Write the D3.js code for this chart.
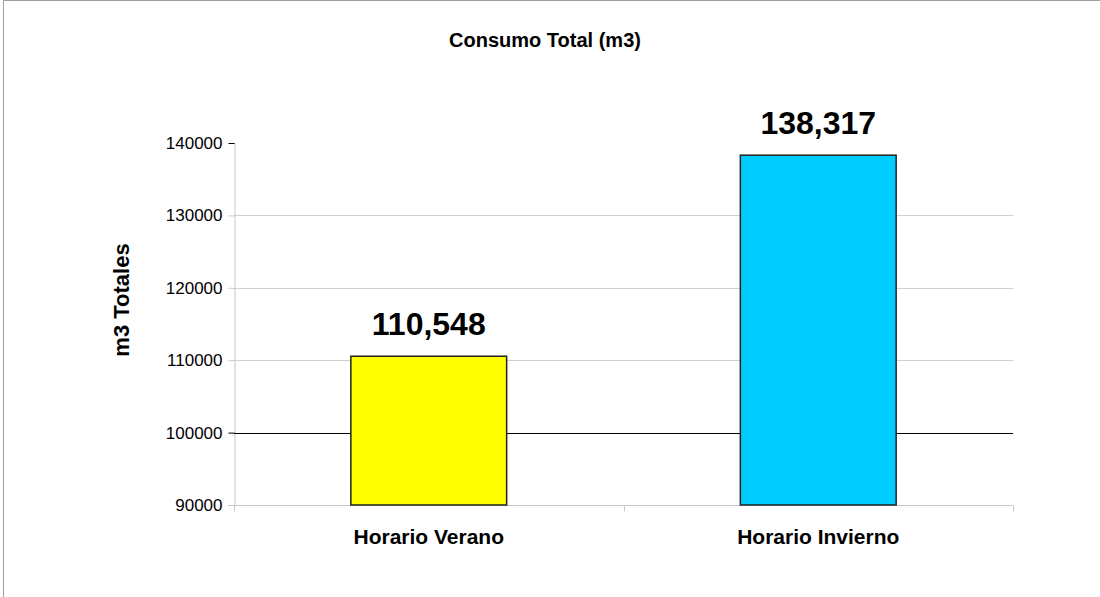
<!DOCTYPE html>
<html>
<head>
<meta charset="utf-8">
<script src="https://cdn.jsdelivr.net/npm/d3@7"></script>
<style>
	body { margin: 0; background: #fff; }
	svg text { font-family: "Liberation Sans", Arial, sans-serif; fill: #000; }
</style>
</head>
<body>
<script>
const categories = ['Horario Verano', 'Horario Invierno'];
const values = [110548, 138317];
const colors = ['#ffff00', '#00ccff'];
const yTicks = [90000, 100000, 110000, 120000, 130000, 140000];

const width = 1100;
const height = 597;
const margin = { top: 143, right: 87, bottom: 92, left: 234 };

const svg = d3.select('body')
	.append('svg')
	.attr('width', width)
	.attr('height', height);

// outer frame of the chart area (only top and left show in the picture)
svg.append('path')
	.attr('d', 'M3.5,' + height + 'V0.5H' + width)
	.attr('fill', 'none')
	.attr('stroke', '#a0a0a0');

const xScale = d3.scaleBand()
	.domain(categories)
	.range([margin.left, width - margin.right])
	.paddingInner(0.6)
	.paddingOuter(0.3);

const yScale = d3.scaleLinear()
	.domain([90000, 140000])
	.range([height - margin.bottom, margin.top]);

// gridlines
svg.append('g')
	.selectAll('line')
	.data(yTicks.filter(function(d) { return d > 100000 && d < 140000; }))
	.enter()
	.append('line')
	.attr('x1', margin.left)
	.attr('x2', width - margin.right)
	.attr('y1', function(d) { return Math.round(yScale(d)) + 0.5; })
	.attr('y2', function(d) { return Math.round(yScale(d)) + 0.5; })
	.attr('stroke', '#d0d0d0');

// y axis
const yAxis = svg.append('g')
	.attr('transform', 'translate(' + (margin.left + 0.5) + ',0)')
	.call(d3.axisLeft(yScale).tickValues(yTicks).tickSize(6).tickPadding(6).tickFormat(d3.format('d')));
yAxis.select('.domain').attr('stroke', '#c8c8c8');
yAxis.selectAll('.tick line').attr('stroke', function(d) { return d === 140000 || d === 100000 ? '#000' : '#c8c8c8'; });
yAxis.selectAll('.tick text').style('font-size', '17px');

// bottom category axis
const xAxis = svg.append('g')
	.attr('transform', 'translate(0,' + (Math.round(yScale(90000)) + 0.5) + ')');
xAxis.append('line')
	.attr('x1', margin.left - 6)
	.attr('x2', width - margin.right)
	.attr('stroke', '#c8c8c8');
const bounds = [margin.left, (margin.left + width - margin.right) / 2, width - margin.right];
xAxis.selectAll('.cat-tick')
	.data(bounds)
	.enter()
	.append('line')
	.attr('x1', function(d) { return Math.round(d) + 0.5; })
	.attr('x2', function(d) { return Math.round(d) + 0.5; })
	.attr('y1', 0)
	.attr('y2', 6)
	.attr('stroke', '#c8c8c8');
xAxis.selectAll('text')
	.data(categories)
	.enter()
	.append('text')
	.attr('x', function(d) { return xScale(d) + xScale.bandwidth() / 2; })
	.attr('y', 38)
	.attr('text-anchor', 'middle')
	.style('font-size', '21px')
	.style('font-weight', 'bold')
	.text(function(d) { return d; });

// the black line at 100000
svg.append('line')
	.attr('x1', margin.left)
	.attr('x2', width - margin.right)
	.attr('y1', Math.round(yScale(100000)) + 0.5)
	.attr('y2', Math.round(yScale(100000)) + 0.5)
	.attr('stroke', '#000');

// bars
svg.selectAll('rect.bar')
	.data(values)
	.enter()
	.append('rect')
	.attr('class', 'bar')
	.attr('x', function(d, i) { return xScale(categories[i]); })
	.attr('y', function(d) { return yScale(d); })
	.attr('width', xScale.bandwidth())
	.attr('height', function(d) { return yScale(90000) - yScale(d); })
	.attr('fill', function(d, i) { return colors[i]; })
	.attr('stroke', '#222')
	.attr('stroke-width', 1.5);

// value labels
svg.selectAll('text.value')
	.data(values)
	.enter()
	.append('text')
	.attr('class', 'value')
	.attr('x', function(d, i) { return xScale(categories[i]) + xScale.bandwidth() / 2; })
	.attr('y', function(d) { return yScale(d) - 21; })
	.attr('text-anchor', 'middle')
	.style('font-size', '32px')
	.style('font-weight', 'bold')
	.text(function(d) { return d3.format(',')(d); });

// title
svg.append('text')
	.attr('x', 545)
	.attr('y', 47)
	.attr('text-anchor', 'middle')
	.style('font-size', '20px')
	.style('font-weight', 'bold')
	.text('Consumo Total (m3)');

// y axis title
svg.append('text')
	.attr('transform', 'translate(129,' + 300 + ') rotate(-90)')
	.attr('text-anchor', 'middle')
	.style('font-size', '22px')
	.style('font-weight', 'bold')
	.text('m3 Totales');
</script>
</body>
</html>
